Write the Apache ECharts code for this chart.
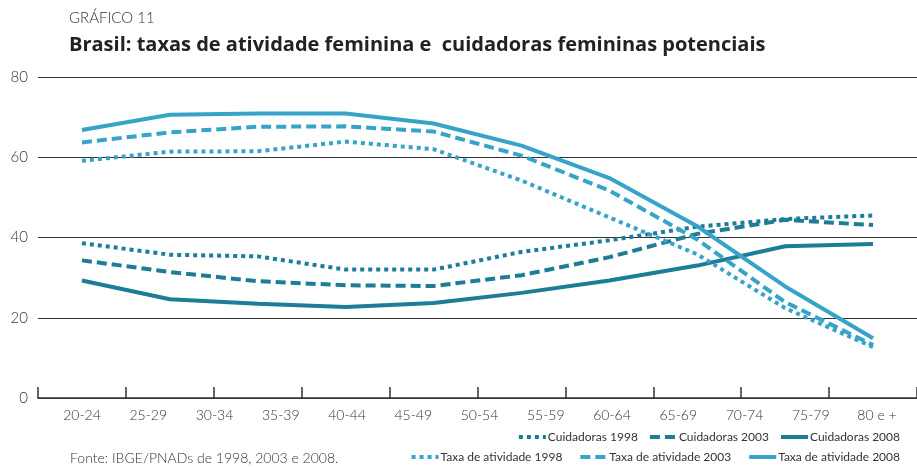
<!DOCTYPE html>
<html lang="pt">
<head>
    <meta charset="UTF-8">
    <title>Gráfico 11</title>
    <script src="https://cdn.jsdelivr.net/npm/echarts@6/dist/echarts.min.js"></script>
    <style>
        html, body { margin: 0; padding: 0; background: #fff; }
        #main { width: 917px; height: 467px; }
    </style>
</head>
<body>
<div id="main"></div>
<script type="text/javascript">
    // tick labels shown under the axis (13 faixas etárias)
    var ageLabels = ['20-24', '25-29', '30-34', '35-39', '40-44', '45-49', '50-54',
        '55-59', '60-64', '65-69', '70-74', '75-79', '80 e +'];
    // the lines in the original only have 10 points each
    var pointSlots = ['1', '2', '3', '4', '5', '6', '7', '8', '9', '10'];

    var cuid1998 = [38.6, 35.7, 35.3, 32.0, 32.0, 36.4, 39.3, 42.7, 44.6, 45.5];
    var cuid2003 = [34.3, 31.4, 29.1, 28.1, 27.9, 30.6, 35.1, 40.9, 44.4, 43.1];
    var cuid2008 = [29.3, 24.6, 23.5, 22.7, 23.7, 26.2, 29.3, 33.0, 37.8, 38.4];
    var taxa1998 = [59.1, 61.4, 61.5, 63.9, 62.0, 54.2, 45.0, 35.8, 22.4, 12.7];
    var taxa2003 = [63.7, 66.2, 67.6, 67.7, 66.4, 60.4, 51.7, 39.5, 23.9, 13.2];
    var taxa2008 = [66.8, 70.6, 70.9, 70.9, 68.4, 62.9, 54.8, 42.8, 27.8, 14.9];

    var dark = '#1d7c96';
    var light = '#36a3c9';
    var font = 'Lato';

    function line(name, data, color, type) {
        return {
            name: name,
            type: 'line',
            data: data,
            symbol: 'none',
            xAxisIndex: 0,
            yAxisIndex: 0,
            lineStyle: { color: color, width: 4, type: type, cap: 'butt' },
            itemStyle: { color: color },
            z: 3
        };
    }

    var legendText = { fontFamily: font, fontSize: 12, color: '#333', padding: [0, 0, 0, -3] };

    var myChart = echarts.init(document.getElementById('main'));
    var option = {
        animation: false,
        backgroundColor: '#fff',
        title: [
            {
                text: 'GRÁFICO 11',
                left: 69, top: 11, padding: 0,
                textStyle: { fontFamily: font, fontSize: 15, fontWeight: 300, color: '#333' }
            },
            {
                text: 'Brasil: taxas de atividade feminina e  cuidadoras femininas potenciais',
                left: 69, top: 35, padding: 0,
                textStyle: { fontFamily: 'Open Sans', fontSize: 20, fontWeight: 'bold', color: '#222' }
            },
            {
                text: 'Fonte: IBGE/PNADs de 1998, 2003 e 2008.',
                left: 70, top: 451, padding: 0,
                textStyle: { fontFamily: font, fontSize: 14, fontWeight: 300, color: '#333' }
            }
        ],
        legend: [
            {
                data: ['Cuidadoras 1998', 'Cuidadoras 2003', 'Cuidadoras 2008'],
                right: 17, top: 431, padding: 0,
                itemWidth: 27, itemHeight: 10, itemGap: 10,
                itemStyle: { color: 'transparent', borderWidth: 0 },
                lineStyle: { width: 4 },
                textStyle: legendText
            },
            {
                data: ['Taxa de atividade 1998', 'Taxa de atividade 2003', 'Taxa de atividade 2008'],
                right: 17, top: 451, padding: 0,
                itemWidth: 27, itemHeight: 10, itemGap: 16,
                itemStyle: { color: 'transparent', borderWidth: 0 },
                lineStyle: { width: 4 },
                textStyle: legendText
            }
        ],
        grid: [
            { left: 38, right: -1, top: 77, bottom: 69 },
            { left: 82, right: 40, top: 77, bottom: 69 }
        ],
        xAxis: [
            {
                type: 'category',
                gridIndex: 0,
                data: pointSlots,
                boundaryGap: true,
                axisLine: { show: true, lineStyle: { color: '#333', width: 1.5 } },
                axisTick: { show: true, interval: 0, inside: true, length: 11, lineStyle: { color: '#333', width: 1.5 } },
                axisLabel: { show: false }
            },
            {
                type: 'category',
                gridIndex: 1,
                data: ageLabels,
                boundaryGap: false,
                axisLine: { show: false },
                axisTick: { show: false },
                axisLabel: { fontFamily: font, fontSize: 14, fontWeight: 300, color: '#333', margin: 10 }
            }
        ],
        yAxis: [
            {
                type: 'value',
                gridIndex: 0,
                min: 0, max: 80, interval: 20,
                axisLine: { show: false },
                axisTick: { show: false },
                axisLabel: { fontFamily: font, fontSize: 15, fontWeight: 300, color: '#333', margin: 10 },
                splitLine: { lineStyle: { color: '#333', width: 1.2 } }
            },
            {
                type: 'value',
                gridIndex: 1,
                min: 0, max: 80,
                show: false
            }
        ],
        series: [
            line('Cuidadoras 1998', cuid1998, dark, [4, 4]),
            line('Cuidadoras 2003', cuid2003, dark, [10, 5]),
            line('Cuidadoras 2008', cuid2008, dark, 'solid'),
            line('Taxa de atividade 1998', taxa1998, light, [4, 4]),
            line('Taxa de atividade 2003', taxa2003, light, [10, 5]),
            line('Taxa de atividade 2008', taxa2008, light, 'solid')
        ]
    };

    myChart.setOption(option);
</script>
</body>
</html>
